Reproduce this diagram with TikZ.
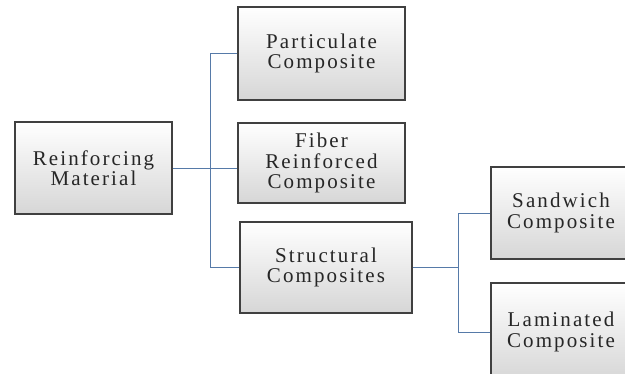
\documentclass[tikz,border=0pt]{standalone}
\usepackage{fontspec}
\setmainfont[LetterSpace=10]{Liberation Serif}
\definecolor{linkblue}{RGB}{86,122,168}
\tikzset{
    box/.style={draw=black!75, line width=1.1pt, top color=white, bottom color=black!16,
        align=center, inner sep=0pt, text=black!85,
        font=\fontsize{21}{20.5}\selectfont},
    link/.style={draw=linkblue, line width=0.8pt},
}
% #1 name, #2 #3 centre, #4 #5 size, #6 text
\newcommand\CompBox[6]{%
    \node[box, minimum width=#4pt, minimum height=#5pt] (#1) at (#2,#3) {#6};
}

\begin{document}
\begin{tikzpicture}[x=1pt,y=-1pt]
    \clip (0,0) rectangle (625,374);
    \fill[white] (0,0) rectangle (625,374);
    \coordinate (TrunkA) at (210,0);
    \coordinate (TrunkB) at (458,0);
    % boxes
    \CompBox{rm}{93.5}{168}{157}{92}{Reinforcing\\Material}
    \CompBox{pc}{321.5}{53.5}{167}{93}{Particulate\\Composite}
    \CompBox{fc}{321.5}{163}{167}{80}{Fiber\\Reinforced\\Composite}
    \CompBox{sc}{326}{267.5}{172}{91}{Structural\\Composites}
    \CompBox{sw}{561}{213}{140}{92}{Sandwich\\Composite}
    \CompBox{lm}{561}{332}{140}{98}{Laminated\\Composite}
    % links
    \draw[link] (pc.west) -- (pc.west -| TrunkA) |- (sc.west);
    \draw[link] (rm.east) -- (rm.east -| fc.west);
    \draw[link] (sc.east) -- (sc.east -| TrunkB);
    \draw[link] (sw.west) -- (sw.west -| TrunkB) |- (lm.west);
\end{tikzpicture}
\end{document}
